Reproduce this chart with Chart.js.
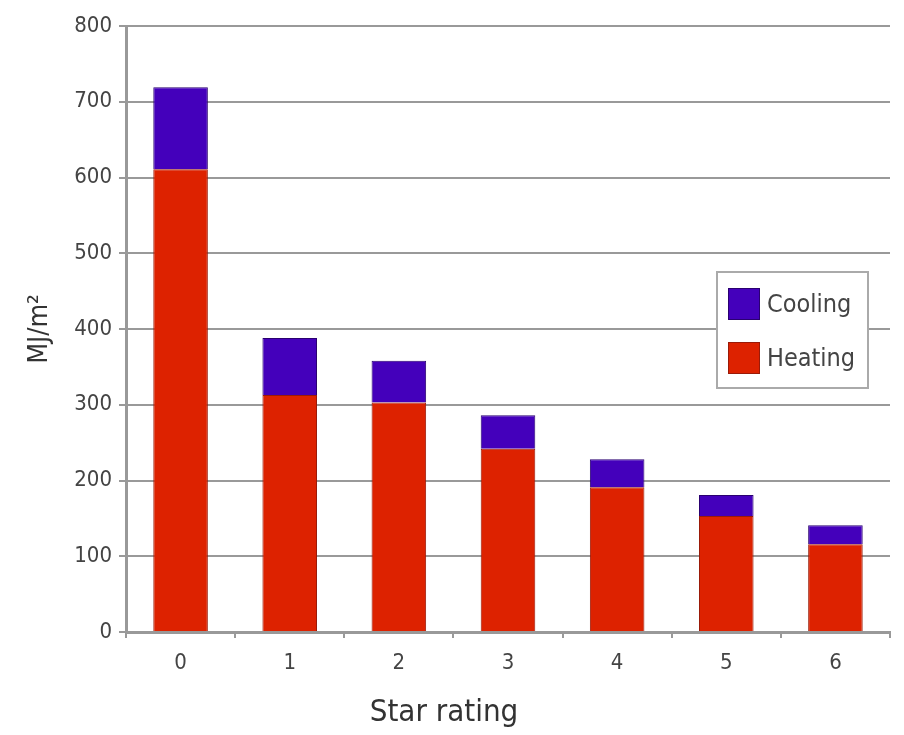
<!DOCTYPE html>
<html>
<head>
<meta charset="utf-8">
<script src="https://cdn.jsdelivr.net/npm/chart.js@4/dist/chart.umd.min.js"></script>
<style>
  html, body { margin: 0; padding: 0; background: #fff; }
  #wrap { width: 904px; height: 735px; }
</style>
</head>
<body>
<div id="wrap"><canvas id="myChart" width="904" height="735"></canvas></div>
<script>
// Werte (MJ/m²)
const starRatings = ['0', '1', '2', '3', '4', '5', '6'];
const heating = [611, 313, 303, 242, 191, 153, 116];
const cooling = [108, 75, 55, 44, 37, 28, 25];
const yTicks = [0, 100, 200, 300, 400, 500, 600, 700, 800];

const FONT = '"DejaVu Sans Condensed", "Liberation Sans Narrow", "Liberation Sans", sans-serif';

// Legende im Diagramm drin (Kasten rechts) + x-Titel etwas links von der Mitte
const boxLegend = {
    id: 'boxLegend',
    afterDraw(chart) {
        const ctx = chart.ctx;
        const x = 717, y = 272, w = 151, h = 116;
        ctx.save();
        ctx.fillStyle = '#fff';
        ctx.fillRect(x, y, w, h);
        ctx.strokeStyle = '#aaa';
        ctx.lineWidth = 2;
        ctx.strokeRect(x, y, w, h);
        const items = [chart.data.datasets[1], chart.data.datasets[0]];
        items.forEach((ds, i) => {
            const sy = y + 16 + i * 54;
            ctx.fillStyle = ds.backgroundColor;
            ctx.fillRect(x + 11, sy, 32, 32);
            ctx.strokeStyle = ds.borderColor;
            ctx.lineWidth = 1;
            ctx.strokeRect(x + 11.5, sy + 0.5, 31, 31);
            ctx.fillStyle = '#444';
            ctx.font = '25px ' + FONT;
            ctx.textBaseline = 'middle';
            ctx.fillText(ds.label, x + 50, sy + 17);
        });
        // x-Achsentitel
        ctx.fillStyle = '#333';
        ctx.font = '31px ' + FONT;
        ctx.textAlign = 'center';
        ctx.textBaseline = 'middle';
        ctx.fillText('Star rating', 444, 713);
        ctx.restore();
    }
};

const config = {
    type: 'bar',
    data: {
        labels: starRatings,
        datasets: [
            {
                label: 'Heating',
                data: heating,
                backgroundColor: '#dd2200',
                borderColor: '#9a1a08',
                borderWidth: 1,
                barPercentage: 0.5,
                categoryPercentage: 1
            },
            {
                label: 'Cooling',
                data: cooling,
                backgroundColor: '#4400bb',
                borderColor: '#2a0070',
                borderWidth: 1,
                barPercentage: 0.5,
                categoryPercentage: 1
            }
        ]
    },
    options: {
        responsive: false,
        animation: false,
        layout: { padding: { left: 24, right: 14, top: 26, bottom: 0 } },
        plugins: {
            legend: { display: false },
            tooltip: { enabled: false }
        },
        scales: {
            x: {
                stacked: true,
                offset: true,
                grid: {
                    display: true,
                    drawOnChartArea: false,
                    drawTicks: true,
                    tickLength: 6,
                    color: '#999',
                    lineWidth: 2,
                    offset: true
                },
                border: { color: '#999', width: 3 },
                ticks: {
                    color: '#444',
                    font: { family: FONT, size: 22 },
                    padding: 12
                },
                afterFit(scale) { scale.height = 103; }
            },
            y: {
                stacked: true,
                min: 0,
                max: 800,
                afterBuildTicks(scale) { scale.ticks = yTicks.map(v => ({ value: v })); },
                grid: {
                    color: '#999',
                    lineWidth: 2,
                    tickLength: 7
                },
                border: { color: '#999', width: 3 },
                ticks: {
                    color: '#444',
                    font: { family: FONT, size: 22 },
                    padding: 7
                },
                title: {
                    display: true,
                    text: 'MJ/m²',
                    color: '#333',
                    font: { family: FONT, size: 27 },
                    padding: { top: 0, bottom: 0 }
                },
                afterFit(scale) { scale.width = 102; }
            }
        }
    },
    plugins: [boxLegend]
};

new Chart(document.querySelector('#myChart').getContext('2d'), config);
</script>
</body>
</html>
